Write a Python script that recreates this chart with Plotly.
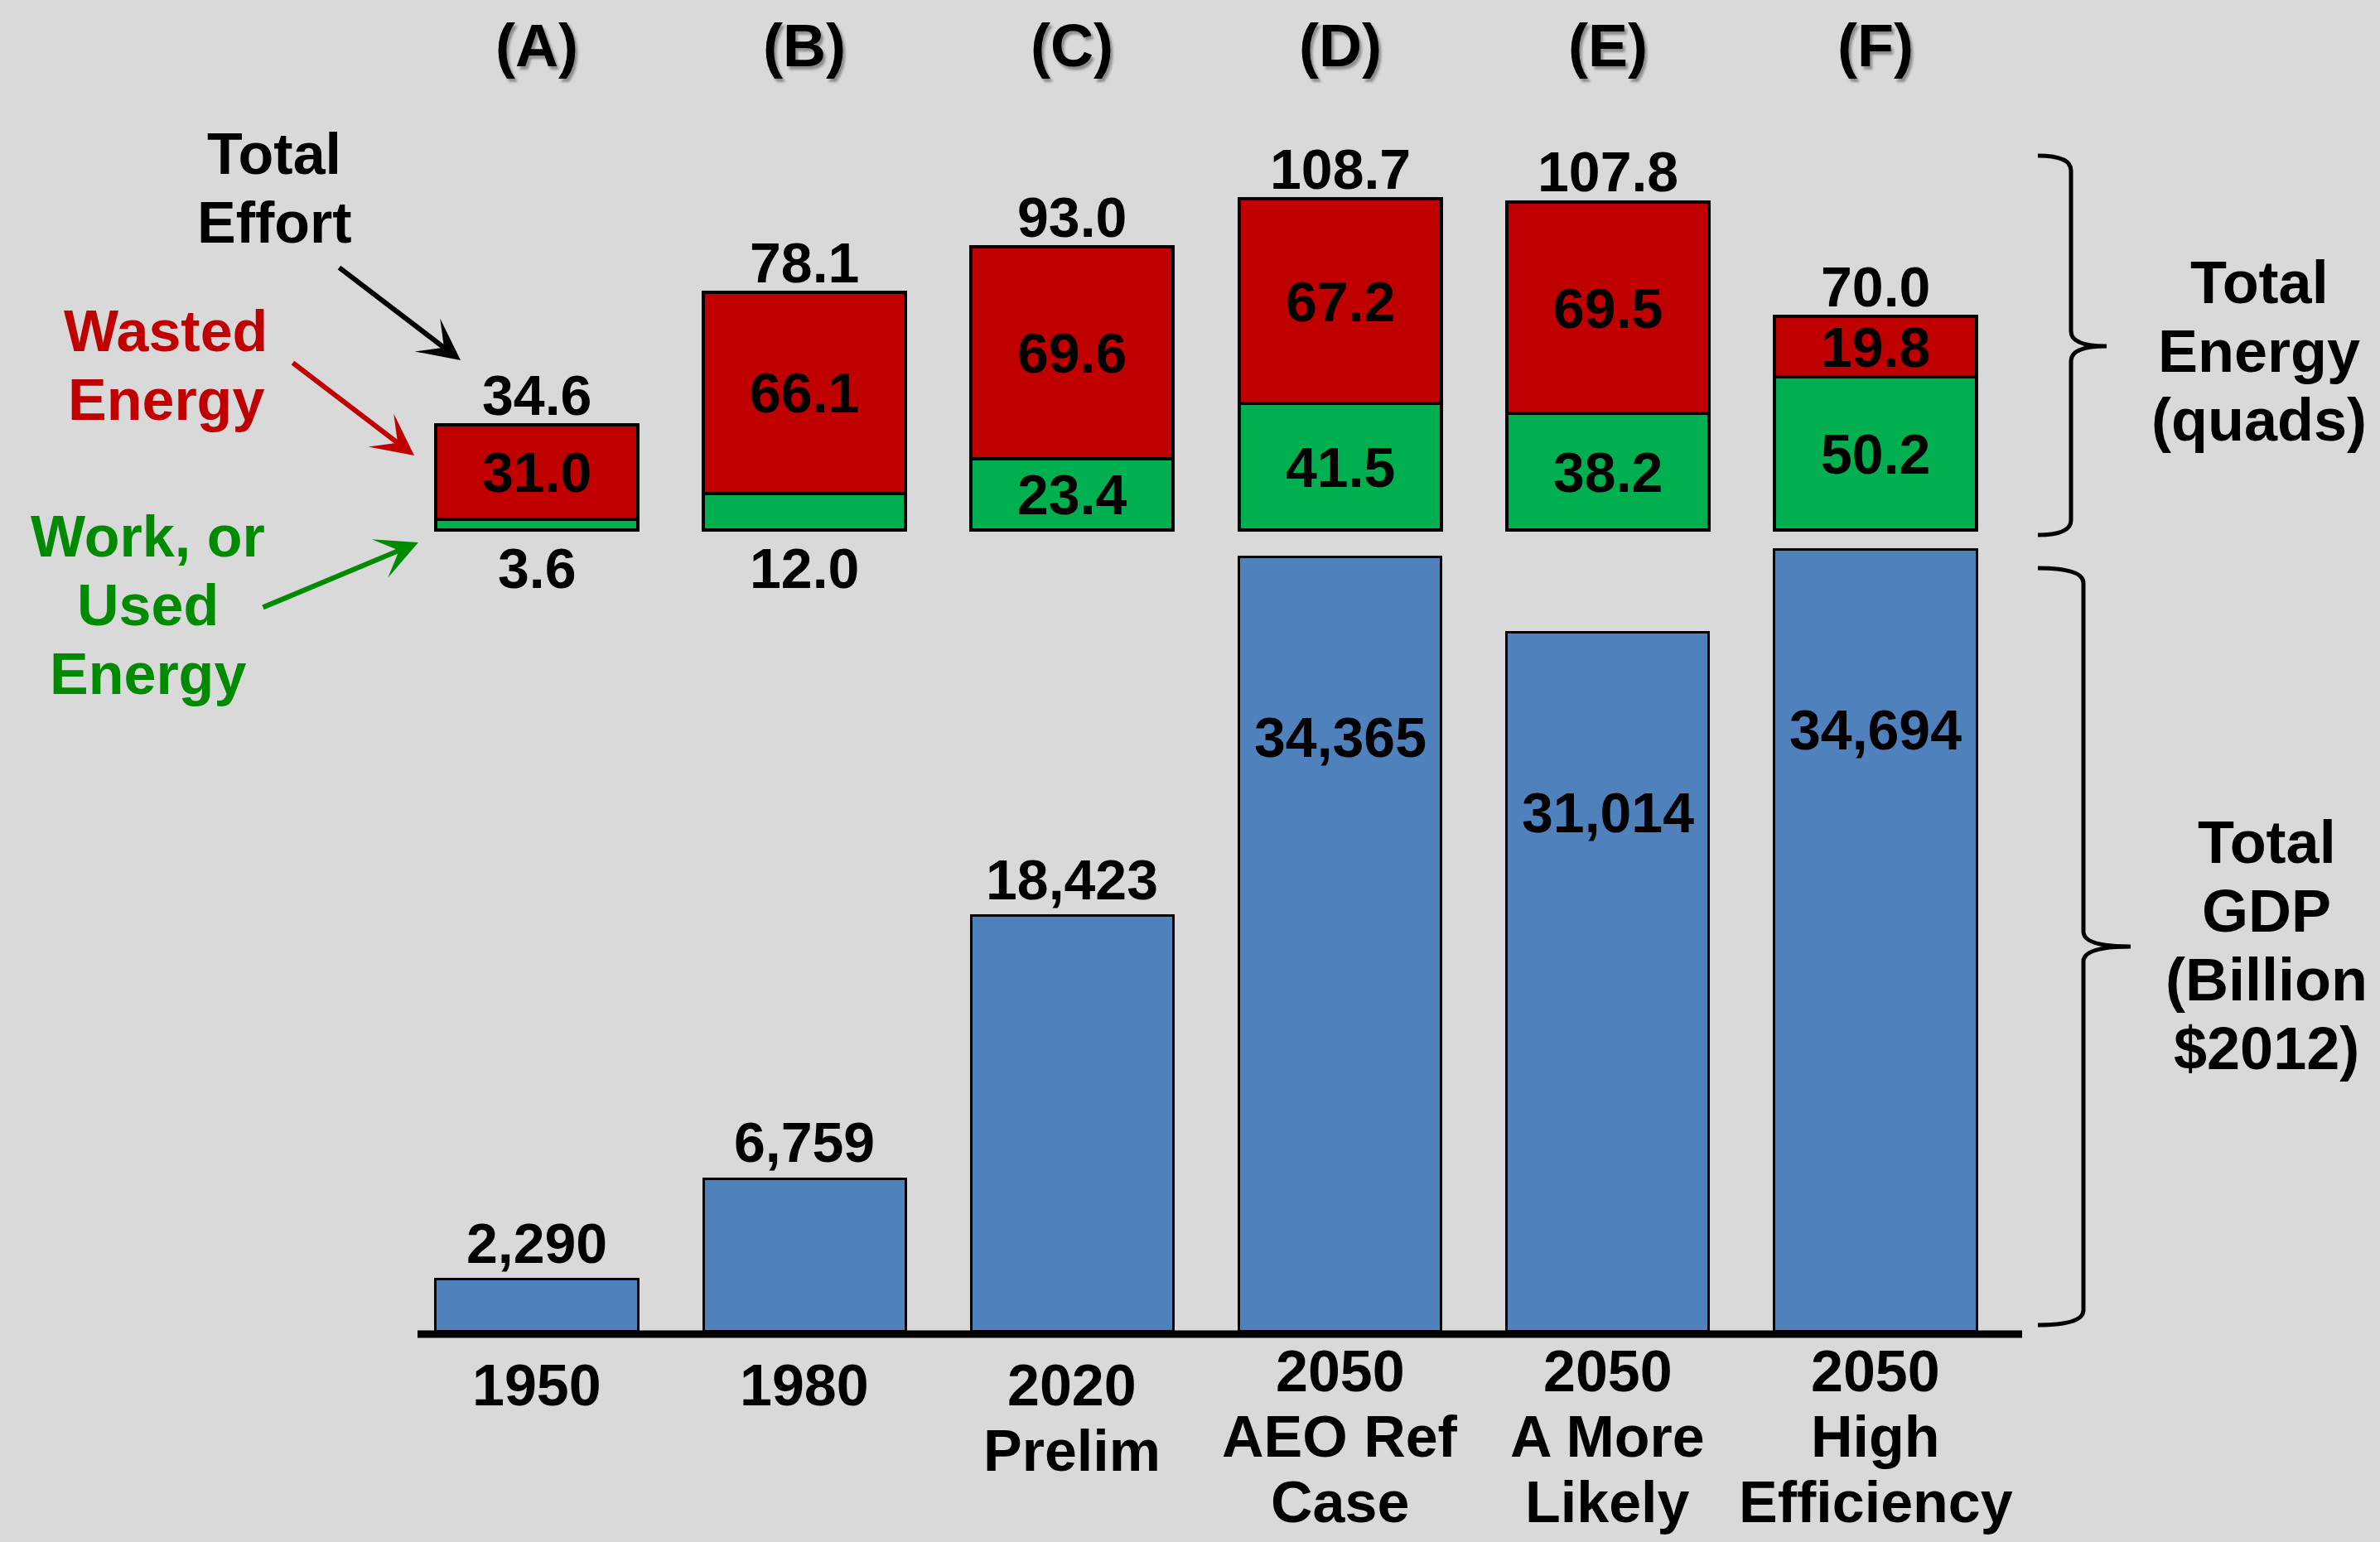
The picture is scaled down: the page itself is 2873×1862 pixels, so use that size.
import plotly.graph_objects as go

# ---- data -------------------------------------------------------------
panel_tags = ["(A)", "(B)", "(C)", "(D)", "(E)", "(F)"]
category_lines = [
    ["1950"],
    ["1980"],
    ["2020", "Prelim"],
    ["2050", "AEO Ref", "Case"],
    ["2050", "A More", "Likely"],
    ["2050", "High", "Efficiency"],
]
used_energy = [3.6, 12.0, 23.4, 41.5, 38.2, 50.2]        # quads
wasted_energy = [31.0, 66.1, 69.6, 67.2, 69.5, 19.8]     # quads
total_energy = [34.6, 78.1, 93.0, 108.7, 107.8, 70.0]    # quads
gdp = [2290, 6759, 18423, 34365, 31014, 34694]           # billion $2012

# ---- layout geometry (pixels) ----------------------------------------
W, H = 2873, 1862
BG = "#D9D9D9"
RED = "#C00000"
GREEN = "#00B050"
BLUE = "#4F81BD"
LEG_GREEN = "#008A00"
FONT = "Liberation Sans, Arial, sans-serif"

X_LEFT, X_RIGHT = 504, 2441          # extent of the base line
X_FIRST, X_STEP = 648, 323.2         # centre of first bar, spacing
BAR_W = 0.755

E_ZERO, E_SCALE = 640, 3.68          # energy panel: zero line, px per quad
G_ZERO, G_SCALE = 1607, 0.0272       # GDP panel: zero line, px per $B
SPLIT = 652                          # boundary between the two panels
G_BOTTOM = 1640


def px(x):
    return x / W


def py(y):
    return 1 - y / H


idx = list(range(len(panel_tags)))

fig = go.Figure()

fig.add_trace(go.Bar(
    x=idx, y=used_energy, xaxis="x", yaxis="y2", width=BAR_W,
    marker=dict(color=GREEN, line=dict(color="black", width=4)),
    hoverinfo="skip", name="Used"))
fig.add_trace(go.Bar(
    x=idx, y=wasted_energy, xaxis="x", yaxis="y2", width=BAR_W,
    marker=dict(color=RED, line=dict(color="black", width=4)),
    hoverinfo="skip", name="Wasted"))
fig.add_trace(go.Bar(
    x=idx, y=gdp, xaxis="x", yaxis="y", width=BAR_W,
    marker=dict(color=BLUE, line=dict(color="black", width=3)),
    hoverinfo="skip", name="GDP"))

ann = []


def label(x, y, s, size=68, color="black", xref="paper", yref="paper",
          yshift=0, xanchor="center", shadow=None):
    f = dict(family=FONT, size=size, color=color, weight="bold")
    if shadow:
        f["shadow"] = shadow
    ann.append(dict(x=x, y=y, xref=xref, yref=yref, text=s, showarrow=False,
                    xanchor=xanchor, yanchor="middle", yshift=yshift, font=f))


def block(xc, y_first, lines, size=70, color="black", step=83):
    for k, s in enumerate(lines):
        label(px(xc), py(y_first + k * step), s, size=size, color=color)


# panel letters
for i, t in enumerate(panel_tags):
    label(i, py(55), t, size=72, xref="x",
          shadow="3px 4px 3px rgba(0,0,0,0.35)")

# energy labels
for i in idx:
    label(i, total_energy[i], f"{total_energy[i]:.1f}", xref="x", yref="y2",
          yshift=36)
    label(i, used_energy[i] + wasted_energy[i] / 2, f"{wasted_energy[i]:.1f}",
          xref="x", yref="y2")
    if used_energy[i] >= 20:
        label(i, used_energy[i] / 2, f"{used_energy[i]:.1f}", xref="x", yref="y2")
    else:
        label(i, 0, f"{used_energy[i]:.1f}", xref="x", yref="y2", yshift=-46)

# GDP labels
for i in idx:
    txt = f"{gdp[i]:,}"
    if gdp[i] < 25000:
        label(i, gdp[i], txt, xref="x", yref="y", yshift=44)
    else:
        label(i, gdp[i], txt, xref="x", yref="y", yshift=-218)

# category labels under the base line
for i, lines in enumerate(category_lines):
    first = 1673 if len(lines) < 3 else 1656
    for k, s in enumerate(lines):
        ann.append(dict(x=i, y=py(first + 79 * k), xref="x", yref="paper",
                        text=s, showarrow=False, xanchor="center",
                        yanchor="middle",
                        font=dict(family=FONT, size=70, color="black",
                                  weight="bold")))

# left-hand key with arrows
block(331, 186, ["Total", "Effort"], color="black")
block(200, 400, ["Wasted", "Energy"], color=RED)
block(178, 648, ["Work, or", "Used", "Energy"], color=LEG_GREEN)


def arrow(tail, head, color):
    ann.append(dict(x=px(head[0]), y=py(head[1]), xref="paper", yref="paper",
                    ax=tail[0] - head[0], ay=tail[1] - head[1],
                    axref="pixel", ayref="pixel", text="", showarrow=True,
                    arrowhead=3, arrowsize=1.4, arrowwidth=6,
                    arrowcolor=color, standoff=0))


arrow((408, 322), (556, 435), "black")
arrow((352, 437), (500, 550), RED)
arrow((316, 734), (505, 655), LEG_GREEN)

# right-hand group captions
block(2727, 341, ["Total", "Energy", "(quads)"], size=72)
block(2736, 1017, ["Total", "GDP", "(Billion", "$2012)"], size=72)


def brace(x_end, x_spine, x_tip, y_top, y_mid, y_bot):
    r = 18
    pts = (
        f"M {px(x_end)},{py(y_top)} "
        f"Q {px(x_spine)},{py(y_top)} {px(x_spine)},{py(y_top + r)} "
        f"L {px(x_spine)},{py(y_mid - r)} "
        f"Q {px(x_spine)},{py(y_mid)} {px(x_tip)},{py(y_mid)} "
        f"Q {px(x_spine)},{py(y_mid)} {px(x_spine)},{py(y_mid + r)} "
        f"L {px(x_spine)},{py(y_bot - r)} "
        f"Q {px(x_spine)},{py(y_bot)} {px(x_end)},{py(y_bot)}"
    )
    return dict(type="path", path=pts, xref="paper", yref="paper",
                line=dict(color="black", width=5))


shapes = [
    dict(type="line", xref="paper", yref="paper",
         x0=px(X_LEFT), x1=px(X_RIGHT), y0=py(1611), y1=py(1611),
         line=dict(color="black", width=9)),
    brace(2460, 2500, 2543, 188, 418, 646),
    brace(2460, 2515, 2572, 686, 1143, 1600),
]

fig.update_layout(
    width=W, height=H,
    margin=dict(l=0, r=0, t=0, b=0),
    paper_bgcolor=BG, plot_bgcolor="rgba(0,0,0,0)",
    barmode="stack", showlegend=False,
    xaxis=dict(domain=[px(X_LEFT), px(X_RIGHT)],
               range=[(X_LEFT - X_FIRST) / X_STEP, (X_RIGHT - X_FIRST) / X_STEP],
               visible=False, fixedrange=True),
    yaxis=dict(domain=[py(G_BOTTOM), py(SPLIT)],
               range=[-(G_BOTTOM - G_ZERO) / G_SCALE, (G_ZERO - SPLIT) / G_SCALE],
               visible=False, fixedrange=True),
    yaxis2=dict(domain=[py(SPLIT), 1.0], anchor="x",
                range=[-(SPLIT - E_ZERO) / E_SCALE, E_ZERO / E_SCALE],
                visible=False, fixedrange=True),
    annotations=ann,
    shapes=shapes,
)

fig.write_html("out.html")
